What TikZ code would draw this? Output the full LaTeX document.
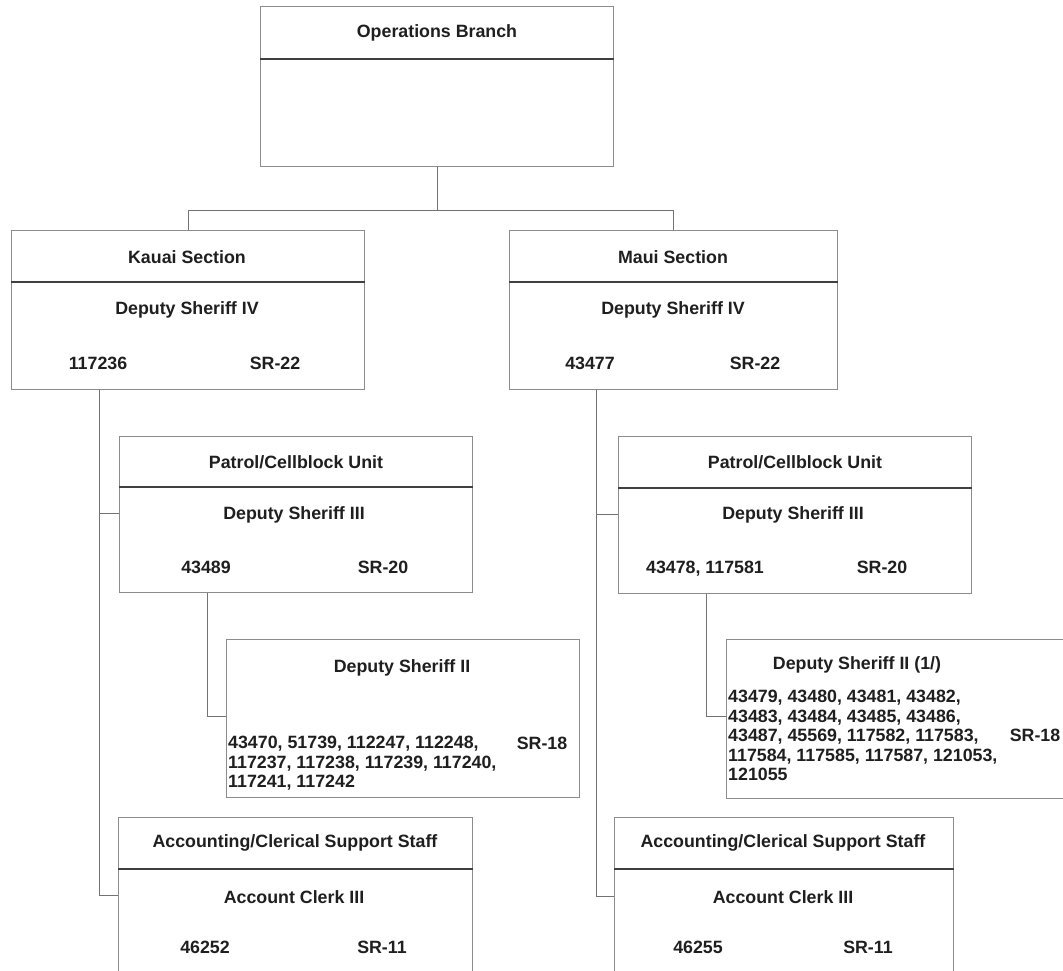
\documentclass[tikz,border=0pt]{standalone}
\usepackage{fontspec}
\setmainfont{Liberation Sans}
\begin{document}
\begin{tikzpicture}[x=1pt,y=-1pt,
  box/.style={draw=black!45, line width=0.8pt, anchor=north west, inner sep=0, fill=none},
  div/.style={draw=black!75, line width=1.1pt},
  link/.style={draw=black!55, line width=0.8pt},
  txt/.style={font=\bfseries\fontsize{17.8}{19.5}\selectfont, inner sep=0, text=black!88},
  lst/.style={txt, align=left, anchor=north west}]
\clip (0,0) rectangle (1063,971);
\fill[white] (0,0) rectangle (1063,971);

% boxes
\node[box, minimum width=353pt, minimum height=160pt] (ob) at (260,6) {};
\node[box, minimum width=353pt, minimum height=159pt] (kauai) at (11,230) {};
\node[box, minimum width=328pt, minimum height=159pt] (maui) at (509,230) {};
\node[box, minimum width=353pt, minimum height=156pt] (kp) at (119,436) {};
\node[box, minimum width=353pt, minimum height=157pt] (mp) at (618,436) {};
\node[box, minimum width=353pt, minimum height=158pt] (kds) at (226,639) {};
\node[box, minimum width=360pt, minimum height=159pt] (mds) at (726,639) {};
\node[box, minimum width=354pt, minimum height=200pt] (ka) at (118,817) {};
\node[box, minimum width=339pt, minimum height=200pt] (ma) at (614,817) {};

% dividers
\draw[div] ([yshift=-53pt]ob.north west) -- ([yshift=-53pt]ob.north east);
\draw[div] ([yshift=-52pt]kauai.north west) -- ([yshift=-52pt]kauai.north east);
\draw[div] ([yshift=-52pt]maui.north west) -- ([yshift=-52pt]maui.north east);
\draw[div] ([yshift=-51pt]kp.north west) -- ([yshift=-51pt]kp.north east);
\draw[div] ([yshift=-52pt]mp.north west) -- ([yshift=-52pt]mp.north east);
\draw[div] ([yshift=-52pt]ka.north west) -- ([yshift=-52pt]ka.north east);
\draw[div] ([yshift=-52pt]ma.north west) -- ([yshift=-52pt]ma.north east);

% connectors
\draw[link] (ob.south) -- ++(0,44) -| ([xshift=177pt]kauai.north west);
\draw[link] (ob.south) ++(0,44) -| ([xshift=164pt]maui.north west);
\draw[link] ([xshift=88pt]kauai.south west) |- ([yshift=-78pt]ka.north west);
\draw[link] ([yshift=-77pt]kp.north west) -| ([xshift=88pt]kauai.south west);
\draw[link] ([xshift=88pt]kp.south west) |- ([yshift=-77pt]kds.north west);
\draw[link] ([xshift=87pt]maui.south west) |- ([yshift=-79pt]ma.north west);
\draw[link] ([yshift=-78pt]mp.north west) -| ([xshift=87pt]maui.south west);
\draw[link] ([xshift=88pt]mp.south west) |- ([yshift=-77pt]mds.north west);

% texts
\node[txt] (t1) at (437,33) {Operations Branch};

\node[txt] (t2) at (187,257) {Kauai Section};
\node[txt] (t3) at (187,310) {Deputy Sheriff IV};
\node[txt] (t4) at (98,363) {117236};
\node[txt] (t5) at (275,363) {SR-22};

\node[txt] (t6) at (673,257) {Maui Section};
\node[txt] (t7) at (673,310) {Deputy Sheriff IV};
\node[txt] (t8) at (590,363) {43477};
\node[txt] (t9) at (755,363) {SR-22};

\node[txt] (t10) at (296,462) {Patrol/Cellblock Unit};
\node[txt] (t11) at (294,515) {Deputy Sheriff III};
\node[txt] (t12) at (206,567) {43489};
\node[txt] (t13) at (383,567) {SR-20};

\node[txt] (t14) at (795,462) {Patrol/Cellblock Unit};
\node[txt] (t15) at (793,515) {Deputy Sheriff III};
\node[txt] (t16) at (705,568.7) {43478, 117581};
\node[txt] (t17) at (882,567) {SR-20};

\node[txt] (t18) at (402,668) {Deputy Sheriff II};
\node[lst] (t19) at (228,736) {43470, 51739, 112247, 112248,\\117237, 117238, 117239, 117240,\\117241, 117242};
\node[txt] (t20) at (542,743) {SR-18};

\node[txt] (t21) at (857,665) {Deputy Sheriff II (1/)};
\node[lst] (t22) at (728,690) {43479, 43480, 43481, 43482,\\43483, 43484, 43485, 43486,\\43487, 45569, 117582, 117583,\\117584, 117585, 117587, 121053,\\121055};
\node[txt] (t23) at (1035,735) {SR-18};

\node[txt] (t24) at (295,843) {Accounting/Clerical Support Staff};
\node[txt] (t25) at (294,897) {Account Clerk III};
\node[txt] (t26) at (205,947) {46252};
\node[txt] (t27) at (382,947) {SR-11};

\node[txt] (t28) at (783,843) {Accounting/Clerical Support Staff};
\node[txt] (t29) at (783,897) {Account Clerk III};
\node[txt] (t30) at (698,947) {46255};
\node[txt] (t31) at (868,947) {SR-11};
\end{tikzpicture}
\end{document}
